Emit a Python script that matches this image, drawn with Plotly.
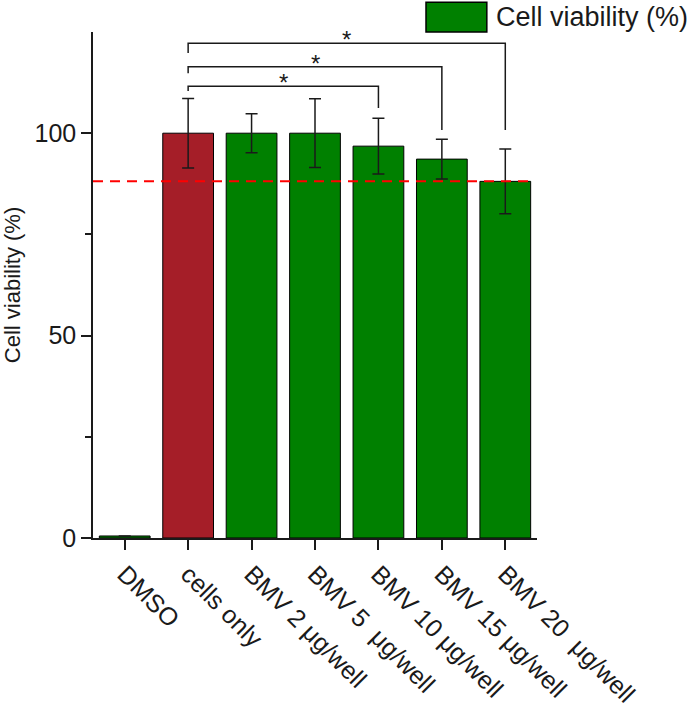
import plotly.graph_objects as go

categories = ["DMSO", "cells only", "BMV 2 μg/well", "BMV 5\u00a0 μg/well",
              "BMV 10 μg/well", "BMV 15 μg/well", "BMV 20\u00a0 μg/well"]
values = [0.5, 100, 100, 100, 96.8, 93.6, 88.1]
errors = [None, 8.6, 4.8, 8.5, 6.9, 4.9, 8.0]
bar_colors = ["#008000", "#A51E28", "#008000", "#008000", "#008000", "#008000", "#008000"]
threshold = 88.1

# significance brackets: (left category, right category, top y, left end y, right end y)
brackets = [
    ("cells only", "BMV 10 μg/well", 111.6, 110.4, 106.2),
    ("cells only", "BMV 15 μg/well", 116.4, 114.8, 100.8),
    ("cells only", "BMV 20\u00a0 μg/well", 122.2, 119.8, 100.8),
]

FONT = "Arial, Liberation Sans, sans-serif"
INK = "#1a1a1a"

fig = go.Figure()
fig.add_trace(go.Bar(
    x=categories, y=values,
    marker=dict(color=bar_colors, line=dict(color="black", width=1)),
    width=0.8,
    error_y=dict(type="data", array=errors, visible=True, color=INK, thickness=1.5, width=6),
    showlegend=False,
))

for left, right, ytop, yl, yr in brackets:
    fig.add_trace(go.Scatter(
        x=[left, left, right, right], y=[yl, ytop, ytop, yr],
        mode="lines", line=dict(color=INK, width=1.5), showlegend=False, hoverinfo="skip",
    ))
    li = categories.index(left)
    ri = categories.index(right)
    fig.add_annotation(x=(li + ri) / 2, y=ytop, xref="x", yref="y", text="*",
                       showarrow=False, yanchor="bottom", yshift=-12,
                       font=dict(family=FONT, size=24, color=INK))

fig.add_shape(type="line", xref="x", yref="y", x0=-0.5, x1=6.42, y0=threshold, y1=threshold,
              line=dict(color="#FF0000", width=2, dash="10px,7px"))

# legend box
fig.add_shape(type="rect", xref="paper", yref="paper", x0=0.75, x1=0.887, y0=1.0, y1=1.059,
              fillcolor="#008000", line=dict(color="black", width=1.5))
fig.add_annotation(xref="paper", yref="paper", x=0.903, y=1.03, text="Cell viability (%)",
                   showarrow=False, xanchor="left", yanchor="middle",
                   font=dict(family=FONT, size=27, color=INK))

fig.update_layout(
    width=688, height=716,
    margin=dict(l=93, r=151, t=32, b=178),
    plot_bgcolor="white", paper_bgcolor="white",
    font=dict(family=FONT, size=24, color=INK),
    bargap=0.2,
)
fig.update_xaxes(
    range=[-0.5, 6.5], showline=True, linecolor=INK, linewidth=1.5, automargin=False,
    ticks="outside", ticklen=10, tickwidth=1.5, tickcolor=INK,
    tickangle=45, tickfont=dict(family=FONT, size=25, color=INK), showgrid=False,
)
fig.update_yaxes(
    range=[0, 125], showline=True, linecolor=INK, linewidth=1.5, automargin=False,
    tickvals=[0, 50, 100], ticks="outside", ticklen=10, tickwidth=1.5, tickcolor=INK,
    minor=dict(tickvals=[25, 75], ticks="outside", ticklen=6, tickwidth=1.5, tickcolor=INK, showgrid=False),
    showgrid=False, zeroline=False,
    title=dict(text="Cell viability (%)", font=dict(family=FONT, size=22, color=INK), standoff=10),
    tickfont=dict(family=FONT, size=25, color=INK),
)

fig.write_html("out.html")
